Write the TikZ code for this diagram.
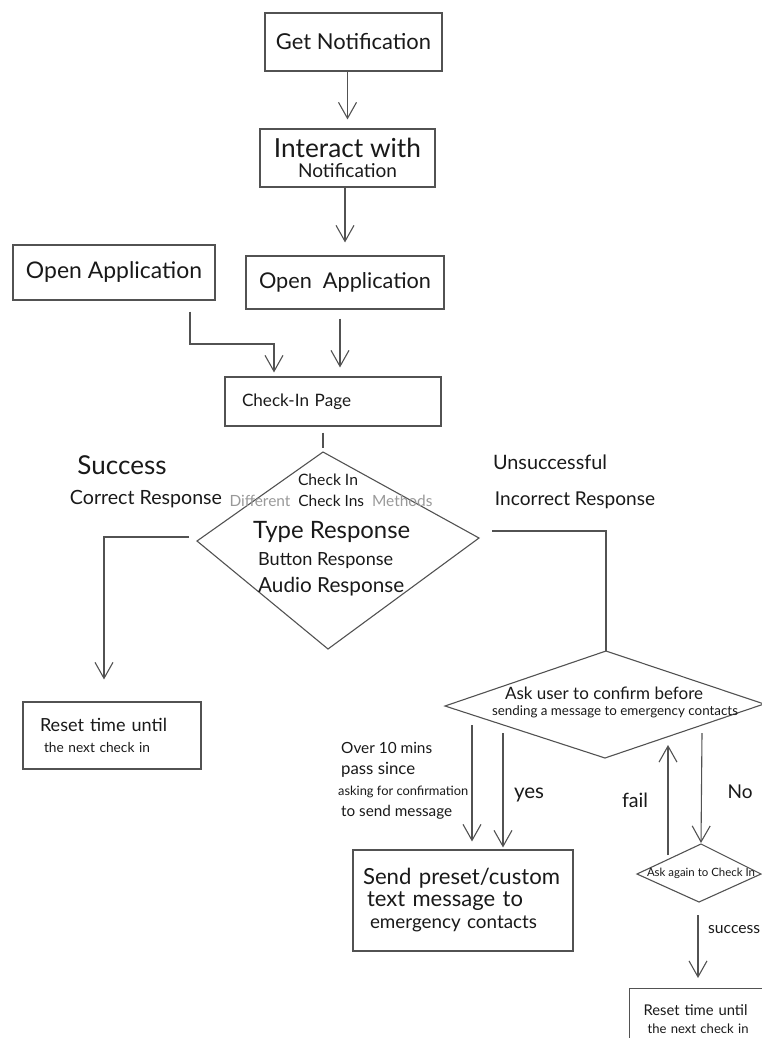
\documentclass[tikz,border=0pt]{standalone}
\usepackage{fontspec}
\setmainfont{Lato}
\usepackage{graphicx}
\usetikzlibrary{arrows.meta}
% text scaled to a given width (pt), aspect kept
\newcommand\hw[2]{\resizebox{#1pt}{!}{#2}}

\begin{document}
\begin{tikzpicture}[x=1pt,y=-1pt,
  ink/.style={draw=black!68, line width=1.1pt},
  box/.style={ink, rectangle, inner sep=0pt, text=black!90},
  arr/.style={ink, -{Straight Barb[length=16pt,width=18pt]}},
  lbl/.style={inner sep=0pt, text=black!90},
  lh/.style={font=\fontsize{10}{#1}\selectfont}]
\useasboundingbox (0,0) rectangle (762,1038);

% ---- upper chain of boxes ----
\node[box, minimum width=177pt, minimum height=58pt] (getn) at (353.5,42)
  {\hw{155}{Get Notification}};
\node[box, lh=20pt, minimum width=175pt, minimum height=58pt, align=center] (inter) at (347.5,158)
  {\hw{147}{Interact with}\\\hw{99}{Notification}};
\node[box, minimum width=202pt, minimum height=55pt] (openL) at (114,272.5)
  {\hw{176}{Open Application}};
\node[box, minimum width=198pt, minimum height=53pt] (openR) at (345,282.5)
  {\hw{172}{Open\ \ Application}};
\node[box, minimum width=216pt, minimum height=49pt, text width=182pt, align=left] (chk) at (333,401.5)
  {\hw{109}{Check-In Page}};

% ---- result boxes ----
\node[box, lh=21pt, minimum width=178pt, minimum height=67pt, text width=144pt, align=left] (resetL) at (112,735.5)
  {\hw{127}{Reset time until}\\\hspace*{4pt}\hw{106}{the next check in}};
\node[box, lh=22pt, minimum width=220pt, minimum height=101pt, text width=200pt, align=left] (send) at (463,900.5)
  {\hw{197}{Send preset/custom}\\\hspace*{4pt}\hw{156}{text message to}\\\hspace*{7pt}\hw{167}{emergency contacts}};
\node[box, lh=18pt, anchor=north west, minimum width=180pt, minimum height=62pt, text width=152pt, align=left] (resetR) at (629,988)
  {\hw{104}{Reset time until}\\\hspace*{4pt}\hw{101}{the next check in}};

% ---- decision: check in ----
\coordinate (d1t) at (323,452);
\coordinate (d1r) at (479,538);
\coordinate (d1b) at (328,649);
\coordinate (d1l) at (197,541);
\draw[ink] (d1t) -- (d1r) -- (d1b) -- (d1l) -- cycle;
\node[lbl] (ciTitle) at (328,480) {\hw{60}{Check In}};
\node[lbl] (ciSub) at (331,501) {\hw{203}{\textcolor{black!40}{Different}\ \ Check Ins\ \ \textcolor{black!40}{Methods}}};
\node[lbl, anchor=west] (ciType) at (253,532) {\hw{157}{Type Response}};
\node[lbl, anchor=west] (ciButton) at (258,561) {\hw{135}{Button Response}};
\node[lbl, anchor=west] (ciAudio) at (258,587) {\hw{146}{Audio Response}};

% ---- decision: confirm before sending ----
\coordinate (d2t) at (606,651);
\coordinate (d2r) at (764,704);
\coordinate (d2b) at (605,758);
\coordinate (d2l) at (445,706);
\draw[ink] (d2t) -- (d2r) -- (d2b) -- (d2l) -- cycle;
\node[lbl] (cfA) at (604,693) {\hw{198}{Ask user to confirm before}};
\node[lbl] (cfB) at (615,712) {\hw{246}{sending a message to emergency contacts}};

% ---- decision: ask again ----
\coordinate (d3t) at (701,844);
\coordinate (d3r) at (761,874);
\coordinate (d3b) at (699,902);
\coordinate (d3l) at (637,874);
\draw[ink] (d3t) -- (d3r) -- (d3b) -- (d3l) -- cycle;
\node[lbl] (againTxt) at (701,873) {\hw{108}{Ask again to Check In}};

% ---- branch labels ----
\node[lbl] (lSuccess) at (122,465) {\hw{89}{Success}};
\node[lbl] (lCorrect) at (146,499) {\hw{152}{Correct Response}};
\node[lbl] (lUnsucc) at (550,462) {\hw{114}{Unsuccessful}};
\node[lbl] (lIncorrect) at (575,500) {\hw{160}{Incorrect Response}};
\node[lbl, lh=21pt, anchor=west, align=left] (lOver) at (341,781)
  {\hw{91}{Over 10 mins}\\\hw{74}{pass since}\\\hspace*{-3pt}\hw{130}{asking for confirmation}\\\hw{111}{to send message}};
\node[lbl] (lYes) at (529,795) {\hw{30}{yes}};
\node[lbl] (lFail) at (635,800) {\hw{26}{fail}};
\node[lbl] (lNo) at (740,792) {\hw{25}{No}};
\node[lbl, anchor=west] (lSucc2) at (708,930) {\hw{52}{success}};

% ---- connectors ----
\draw[arr, shorten >=9pt] (getn.south -| inter) -- (inter.north);
\draw[arr, shorten >=13pt] (inter.south -| openR) -- (openR.north);

\coordinate (lx) at (190,344);
\coordinate (lbend) at (274,344);
\draw[arr, shorten <=11pt, shorten >=4pt] (openL.south -| lx) -- (lx) -- (lbend) -- (lbend |- chk.north);
\coordinate (rx) at (340,330);
\draw[arr, shorten <=9pt, shorten >=9pt] (openR.south -| rx) -- (rx |- chk.north);

\draw[ink, shorten <=6pt, shorten >=4pt] (chk.south -| d1t) -- (d1t);

\coordinate (sL) at (189,537);
\coordinate (cL) at (104,537);
\draw[arr, shorten >=22pt] (sL) -- (cL) -- (cL |- resetL.north);

\coordinate (sR) at (492,531);
\coordinate (cR) at (606,531);
\draw[ink] (sR) -- (cR) -- (d2t);

\coordinate (o1) at (472,725);
\draw[arr, shorten >=8pt] (o1) -- (o1 |- send.north);
\coordinate (y1) at (503,733);
\draw[arr, shorten >=2pt] (y1) -- (y1 |- send.north);

\coordinate (f1) at (668,855);
\coordinate (f2) at (668,745);
\draw[arr] (f1) -- (f2);
\coordinate (n1) at (702,733);
\draw[arr, shorten >=1pt] (n1) -- (d3t);

\coordinate (s1) at (698,915);
\draw[arr, shorten >=10pt] (s1) -- (s1 |- resetR.north);
\end{tikzpicture}
\end{document}
